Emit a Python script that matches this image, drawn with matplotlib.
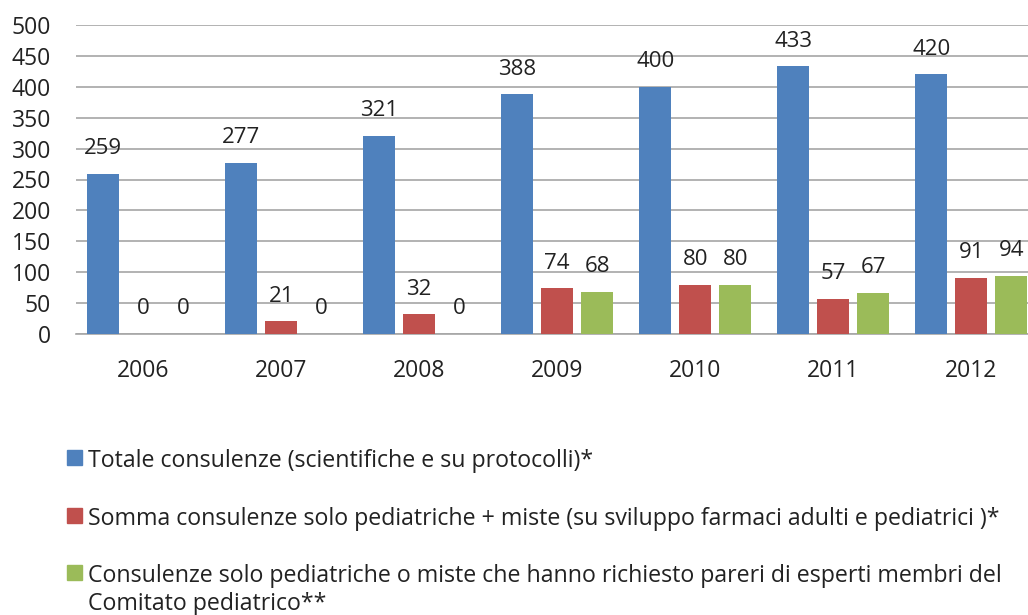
import numpy as np
import matplotlib.pyplot as plt
from matplotlib.patches import Rectangle

plt.rcParams['font.family'] = ['Open Sans', 'DejaVu Sans']

anni = ['2006', '2007', '2008', '2009', '2010', '2011', '2012']
totale = [259, 277, 321, 388, 400, 433, 420]
somma_pediatriche = [0, 21, 32, 74, 80, 57, 91]
con_esperti = [0, 0, 0, 68, 80, 67, 94]

etichette = ['Totale consulenze (scientifiche e su protocolli)*',
             'Somma consulenze solo pediatriche + miste (su sviluppo farmaci adulti e pediatrici )*',
             'Consulenze solo pediatriche o miste che hanno richiesto pareri di esperti membri del\nComitato pediatrico**']
colori = ['#4F81BD', '#C0504D', '#9BBB59']

fig = plt.figure(figsize=(10.28, 6.15), dpi=100)
ax = fig.add_axes([76/1028, 1 - 334/615, 1 - 76/1028, 309/615])

x = np.arange(len(anni))
off = 0.29
w = 0.232
serie = [totale, somma_pediatriche, con_esperti]
for k, vals in enumerate(serie):
    pos = x + (k - 1) * off
    ax.bar(pos, vals, width=w, color=colori[k], zorder=3)
    for p, v in zip(pos, vals):
        ax.annotate(str(v), (p, v), xytext=(0, 18), textcoords='offset points',
                    ha='center', va='center', fontsize=16, color='#222222')

ax.set_ylim(0, 500)
ax.set_yticks(np.arange(0, 501, 50))
ax.set_xlim(-0.486, 6.41)
ax.set_xticks(x)
ax.set_xticklabels(anni)
ax.grid(axis='y', color='#a6a6a6', linewidth=1.2, zorder=0)
for s in ['top', 'right', 'left']:
    ax.spines[s].set_visible(False)
ax.spines['bottom'].set_color('#a6a6a6')
ax.spines['bottom'].set_linewidth(1.2)
ax.tick_params(axis='both', length=0, labelsize=16.5, colors='#222222')
ax.tick_params(axis='y', pad=18)
ax.tick_params(axis='x', pad=18)

# legenda in basso
righe_y = [457, 515, 572]
for k in range(3):
    yc = 1 - righe_y[k] / 615
    fig.patches.append(Rectangle((67/1028, yc - 7.5/615), 15/1028, 15/615,
                                 transform=fig.transFigure, color=colori[k]))
    fig.text(88/1028, yc + 8/615, etichette[k], ha='left', va='top',
             fontsize=16.7, color='#222222', linespacing=1.2)

fig.savefig('out.png', dpi=100)
